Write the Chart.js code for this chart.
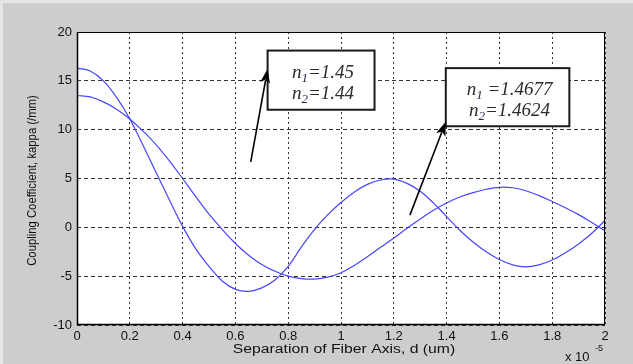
<!DOCTYPE html>
<html>
<head>
<meta charset="utf-8">
<script src="https://cdn.jsdelivr.net/npm/chart.js@4/dist/chart.umd.min.js"></script>
<style>
  html, body { margin: 0; padding: 0; background: #cdcdcd; }
  #wrap { width: 633px; height: 364px; }
</style>
</head>
<body>
<div id="wrap"><canvas id="kappa" width="633" height="364"></canvas></div>
<script>
// separation d, in units of 1e-5 m
var sepValues = [0, 0.05, 0.1, 0.15, 0.2, 0.25, 0.3, 0.35, 0.4, 0.45, 0.5, 0.55, 0.6, 0.65, 0.7, 0.75, 0.8, 0.85, 0.9, 0.95, 1.0,
                 1.05, 1.1, 1.15, 1.2, 1.25, 1.3, 1.35, 1.4, 1.45, 1.5, 1.55, 1.6, 1.65, 1.7, 1.75, 1.8, 1.85, 1.9, 1.95, 2.0];

// n1=1.45, n2=1.44
var kappaLow = [16.3, 16.0, 15.0, 13.3, 11.1, 8.4, 5.6, 2.8, 0.1, -2.2, -4.0, -5.5, -6.35, -6.55, -6.2, -5.4, -4.0, -2.0, -0.2, 1.3, 2.55,
                3.6, 4.4, 4.85, 4.93, 4.5, 3.7, 2.5, 1.1, -0.3, -1.5, -2.5, -3.3, -3.85, -4.05, -3.85, -3.35, -2.6, -1.7, -0.6, 0.7];

// n1=1.4677, n2=1.4624
var kappaHigh = [13.5, 13.35, 12.85, 12.1, 11.1, 9.85, 8.45, 6.8, 5.0, 3.15, 1.35, -0.2, -1.65, -2.85, -3.8, -4.5, -5.0, -5.25, -5.3, -5.1, -4.65,
                 -3.9, -3.0, -2.05, -1.1, -0.1, 0.85, 1.75, 2.5, 3.1, 3.55, 3.9, 4.1, 4.05, 3.75, 3.25, 2.65, 2.0, 1.3, 0.5, -0.35];

var xTicks = [0, 0.2, 0.4, 0.6, 0.8, 1, 1.2, 1.4, 1.6, 1.8, 2];
var yTicks = [-10, -5, 0, 5, 10, 15, 20];

// text boxes and arrows (data coordinates)
var notes = [
  { box: [0.722, 18.1, 1.127, 12.04], sub1: '1', val1: '=1.45', sub2: '2', val2: '=1.44',
    tail: [0.658, 6.7], tip: [0.722, 16.2] },
  { box: [1.397, 16.3, 1.865, 10.35], sub1: '1', val1: ' =1.4677', sub2: '2', val2: '=1.4624',
    tail: [1.261, 1.25], tip: [1.397, 10.8] }
];

function toPairs(ys) {
  return sepValues.map(function (x, i) { return { x: x, y: ys[i] }; });
}

var LINE = '#4646ff';
var TICK_FONT = { family: 'Liberation Sans, Arial, sans-serif', size: 13 };

function drawArrow(ctx, x0, y0, x1, y1) {
  var ang = Math.atan2(y1 - y0, x1 - x0);
  var len = 14, half = 5;
  ctx.strokeStyle = '#000';
  ctx.lineWidth = 1.6;
  ctx.beginPath();
  ctx.moveTo(x0, y0);
  ctx.lineTo(x1 - Math.cos(ang) * len * 0.8, y1 - Math.sin(ang) * len * 0.8);
  ctx.stroke();
  ctx.fillStyle = '#000';
  ctx.beginPath();
  ctx.moveTo(x1, y1);
  ctx.lineTo(x1 - Math.cos(ang) * len + Math.sin(ang) * half, y1 - Math.sin(ang) * len - Math.cos(ang) * half);
  ctx.lineTo(x1 - Math.cos(ang) * len * 0.75, y1 - Math.sin(ang) * len * 0.75);
  ctx.lineTo(x1 - Math.cos(ang) * len - Math.sin(ang) * half, y1 - Math.sin(ang) * len + Math.cos(ang) * half);
  ctx.closePath();
  ctx.fill();
}

// italic "n" with a subscript, then the value, centred on cx
function drawIndex(ctx, cx, cy, sub, rest) {
  var big = 'italic 19px "Liberation Serif", "Times New Roman", serif';
  var small = 'italic 13px "Liberation Serif", "Times New Roman", serif';
  ctx.font = big;
  var wn = ctx.measureText('n').width;
  var wr = ctx.measureText(rest).width;
  ctx.font = small;
  var ws = ctx.measureText(sub).width;
  var x = cx - (wn + ws + wr) / 2;
  ctx.textBaseline = 'alphabetic';
  ctx.textAlign = 'left';
  ctx.fillStyle = '#2c2c2c';
  ctx.font = big;
  ctx.fillText('n', x, cy + 6);
  ctx.font = small;
  ctx.fillStyle = '#2c2c4a';
  ctx.fillText(sub, x + wn, cy + 10);
  ctx.font = big;
  ctx.fillStyle = '#2c2c2c';
  ctx.fillText(rest, x + wn + ws, cy + 6);
}

var matlabLook = {
  id: 'matlabLook',
  beforeDraw: function (chart) {
    var ctx = chart.ctx, a = chart.chartArea;
    ctx.save();
    ctx.fillStyle = '#cdcdcd';
    ctx.fillRect(0, 0, chart.width, chart.height);
    ctx.fillStyle = '#e6e6e6';
    ctx.fillRect(0, 0, chart.width, 3);
    ctx.fillRect(0, 0, 3, chart.height);
    ctx.fillStyle = '#fff';
    ctx.fillRect(a.left, a.top, a.right - a.left, a.bottom - a.top);
    ctx.restore();
  },
  afterDraw: function (chart) {
    var ctx = chart.ctx, a = chart.chartArea;
    var xs = chart.scales.x, ys = chart.scales.y;
    ctx.save();

    // axes box
    ctx.strokeStyle = '#000';
    ctx.lineWidth = 1;
    ctx.strokeRect(Math.round(a.left) + 0.5, Math.round(a.top) + 0.5, Math.round(a.right - a.left) - 1, Math.round(a.bottom - a.top) - 1);
    ctx.lineWidth = 1.5;
    ctx.beginPath();
    ctx.moveTo(a.left + 0.5, a.top);
    ctx.lineTo(a.left + 0.5, a.bottom - 0.5);
    ctx.lineTo(a.right, a.bottom - 0.5);
    ctx.stroke();

    // annotations
    notes.forEach(function (n) {
      var bx0 = xs.getPixelForValue(n.box[0]), by0 = ys.getPixelForValue(n.box[1]);
      var bx1 = xs.getPixelForValue(n.box[2]), by1 = ys.getPixelForValue(n.box[3]);
      ctx.fillStyle = '#fff';
      ctx.fillRect(bx0, by0, bx1 - bx0, by1 - by0);
      ctx.strokeStyle = '#1a1a1a';
      ctx.lineWidth = 2;
      ctx.strokeRect(bx0, by0, bx1 - bx0, by1 - by0);
      var cx = (bx0 + bx1) / 2 + 2, h = by1 - by0;
      drawIndex(ctx, cx, by0 + h * 0.36, n.sub1, n.val1);
      drawIndex(ctx, cx, by0 + h * 0.72, n.sub2, n.val2);
      drawArrow(ctx, xs.getPixelForValue(n.tail[0]), ys.getPixelForValue(n.tail[1]),
                xs.getPixelForValue(n.tip[0]), ys.getPixelForValue(n.tip[1]));
    });

    // axis titles (the source picture is stretched sideways)
    ctx.fillStyle = '#111';
    ctx.font = '12.5px "Liberation Sans", Arial, sans-serif';
    ctx.textAlign = 'center';
    ctx.textBaseline = 'middle';
    ctx.save();
    ctx.translate((a.left + a.right) / 2 + 3, 350);
    ctx.scale(1.26, 1);
    ctx.fillText('Separation of Fiber Axis, d (um)', 0, 0);
    ctx.restore();
    ctx.save();
    ctx.translate(32, (a.top + a.bottom) / 2 + 2);
    ctx.rotate(-Math.PI / 2);
    ctx.scale(1, 1.2);
    ctx.font = '11.3px "Liberation Sans", Arial, sans-serif';
    ctx.fillText('Coupling Coefficient, kappa (/mm)', 0, 0);
    ctx.restore();

    // exponent
    ctx.textAlign = 'left';
    ctx.font = '13px "Liberation Sans", Arial, sans-serif';
    ctx.fillText('x 10', 565, 357);
    ctx.font = '9px "Liberation Sans", Arial, sans-serif';
    ctx.fillText('-5', 595, 349);
    ctx.restore();
  }
};

new Chart(document.getElementById('kappa'), {
  type: 'line',
  data: {
    datasets: [
      { label: 'n1=1.45, n2=1.44', data: toPairs(kappaLow) },
      { label: 'n1=1.4677, n2=1.4624', data: toPairs(kappaHigh) }
    ].map(function (d) {
      d.borderColor = LINE;
      d.borderWidth = 1.2;
      d.pointRadius = 0;
      d.fill = false;
      d.tension = 0.4;
      return d;
    })
  },
  options: {
    responsive: false,
    animation: false,
    devicePixelRatio: 1,
    layout: { padding: { top: 32, right: 28, left: 0, bottom: 0 } },
    plugins: { legend: { display: false }, tooltip: { enabled: false } },
    scales: {
      x: {
        type: 'linear', min: 0, max: 2,
        afterBuildTicks: function (s) { s.ticks = xTicks.map(function (v) { return { value: v }; }); },
        afterFit: function (s) { s.height = 39; },
        ticks: {
          font: TICK_FONT, color: '#111', padding: 4, maxRotation: 0, autoSkip: false,
          callback: function (v) { return String(Math.round(v * 10) / 10); }
        },
        grid: { color: '#333', lineWidth: 1, drawTicks: false },
        border: { display: false, dash: [2, 3] }
      },
      y: {
        min: -10, max: 20,
        afterBuildTicks: function (s) { s.ticks = yTicks.map(function (v) { return { value: v }; }); },
        afterFit: function (s) { s.width = 77; },
        ticks: { font: TICK_FONT, color: '#111', padding: 5, autoSkip: false },
        grid: { color: '#333', lineWidth: 1, drawTicks: false },
        border: { display: false, dash: [4, 3] }
      }
    }
  },
  plugins: [matlabLook]
});
</script>
</body>
</html>
